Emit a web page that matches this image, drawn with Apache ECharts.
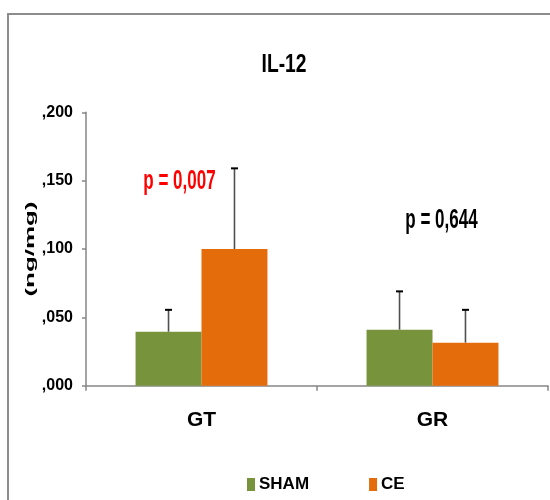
<!DOCTYPE html>
<html>
<head>
<meta charset="utf-8">
<script src="https://cdn.jsdelivr.net/npm/echarts@6/dist/echarts.min.js"></script>
<style>
html,body{margin:0;padding:0;background:#fff;}
#chart{width:550px;height:500px;}
</style>
</head>
<body>
<div id="chart"></div>
<script>
// ---- data ----
var categories = ['GT', 'GR'];
var seriesNames = ['SHAM', 'CE'];
var shamValues = [0.0395, 0.041];
var ceValues = [0.100, 0.0315];
var shamErrors = [0.016, 0.028];
var ceErrors = [0.059, 0.024];
var yTickLabels = [',000', ',050', ',100', ',150', ',200'];
var pLabels = ['p = 0,007', 'p = 0,644'];
var pLabelY = [0.149, 0.1205];
var titleText = 'IL-12';
var yAxisName = '(ng/mg)';

// ---- styles ----
var colors = ['#77933C', '#E46C0A'];
var pColors = ['#FF0000', '#000000'];
var pOffsets = [-22, 9];
var FONT = "'Liberation Sans', Arial, sans-serif";
var gapRatio = 0.429;

var chart = echarts.init(document.getElementById('chart'));

function errSeries(values, errors, side) {
  return {
    type: 'custom',
    z: 10,
    silent: true,
    data: categories.map(function (c, i) { return [i, values[i], errors[i]]; }),
    renderItem: function (params, api) {
      var i = api.value(0), v = api.value(1), e = api.value(2);
      var base = api.coord([i, v]);
      var top = api.coord([i, v + e]);
      var band = api.size([1, 0])[0];
      var x = base[0] + side * band * (1 - gapRatio) / 4;
      return {
        type: 'group',
        children: [
          { type: 'line', shape: { x1: x, y1: base[1], x2: x, y2: top[1] }, style: { stroke: '#505050', lineWidth: 1.6 } },
          { type: 'line', shape: { x1: x - 3.5, y1: top[1], x2: x + 3.5, y2: top[1] }, style: { stroke: '#000', lineWidth: 2 } }
        ]
      };
    }
  };
}

var option = {
  animation: false,
  backgroundColor: '#fff',
  graphic: [
    { type: 'rect', shape: { x: 8, y: 14, width: 800, height: 800 }, style: { fill: 'none', stroke: '#8c8c8c', lineWidth: 2 }, silent: true },
    { type: 'text', x: 284, y: 65, scaleX: 0.74,
      style: { text: titleText, font: 'bold 26px ' + FONT, fill: '#000', textAlign: 'center', textVerticalAlign: 'middle' } },
    { type: 'text', x: 30, y: 249, rotation: Math.PI / 2, scaleX: 1.18, scaleY: 0.6,
      style: { text: yAxisName, font: 'bold 22px ' + FONT, fill: '#000', textAlign: 'center', textVerticalAlign: 'middle' } }
  ],
  legend: {
    data: seriesNames,
    left: 247,
    top: 476,
    padding: 0,
    icon: 'rect',
    itemWidth: 8,
    itemHeight: 13,
    itemGap: 60,
    textStyle: { fontFamily: FONT, fontWeight: 'bold', fontSize: 17, color: '#000', padding: [0, 0, 0, -1] }
  },
  grid: { left: 86, right: 2, top: 112.3, bottom: 114.3, containLabel: false },
  xAxis: {
    type: 'category',
    data: categories,
    axisLine: { lineStyle: { color: '#868686', width: 1.5 } },
    axisTick: { show: true, length: 5, lineStyle: { color: '#868686', width: 1.5 } },
    axisLabel: { margin: 24, fontFamily: FONT, fontWeight: 'bold', fontSize: 21, color: '#000' }
  },
  yAxis: {
    type: 'value',
    min: 0,
    max: 0.2,
    interval: 0.05,
    splitLine: { show: false },
    axisLine: { show: true, lineStyle: { color: '#868686', width: 1.5 } },
    axisTick: { show: true, length: 4, lineStyle: { color: '#868686', width: 1.5 } },
    axisLabel: {
      margin: 13,
      fontFamily: FONT, fontWeight: 'bold', fontSize: 16, color: '#000',
      formatter: function (v) { return yTickLabels[Math.round(v / 0.05)]; }
    }
  },
  series: [
    { name: 'SHAM', type: 'bar', data: shamValues, barGap: '0%', barCategoryGap: (gapRatio * 100) + '%', itemStyle: { color: colors[0] } },
    { name: 'CE', type: 'bar', data: ceValues, barGap: '0%', barCategoryGap: (gapRatio * 100) + '%', itemStyle: { color: colors[1] } },
    errSeries(shamValues, shamErrors, -1),
    errSeries(ceValues, ceErrors, 1),
    {
      type: 'custom',
      z: 11,
      silent: true,
      data: categories.map(function (c, i) { return [i, pLabelY[i]]; }),
      renderItem: function (params, api) {
        var i = params.dataIndex;
        var p = api.coord([api.value(0), api.value(1)]);
        return {
          type: 'text',
          x: p[0] + pOffsets[i],
          y: p[1],
          scaleX: 0.63,
          style: { text: pLabels[i], font: 'bold 27px ' + FONT, fill: pColors[i], textAlign: 'center', textVerticalAlign: 'middle' }
        };
      }
    }
  ]
};
chart.setOption(option);
</script>
</body>
</html>
